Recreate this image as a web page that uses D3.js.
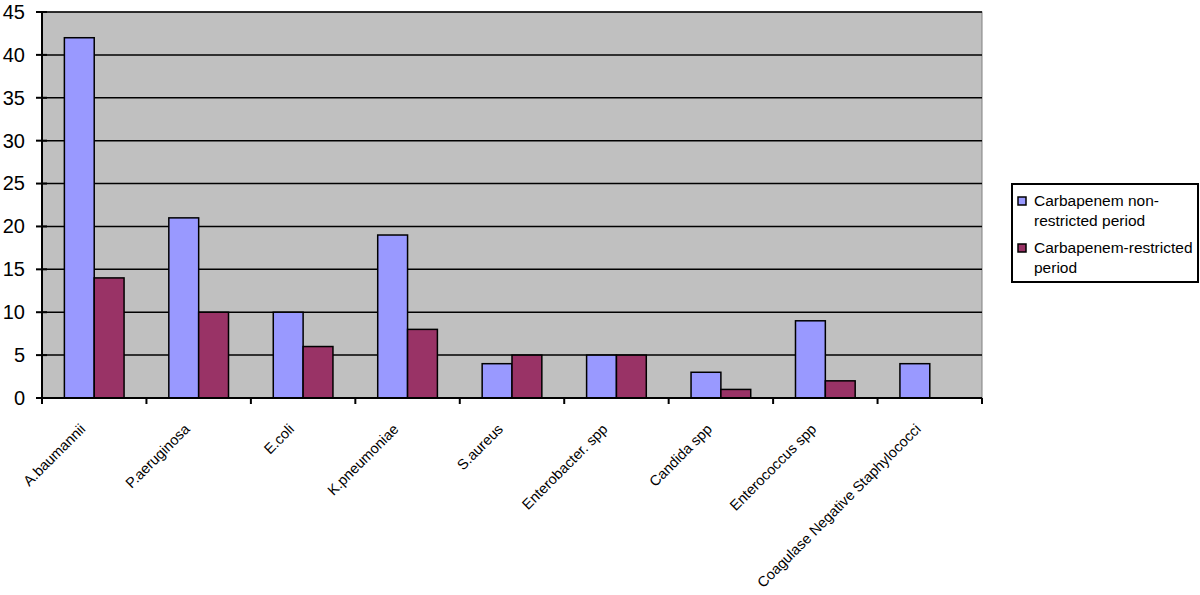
<!DOCTYPE html>
<html>
<head>
<meta charset="utf-8">
<script src="https://cdn.jsdelivr.net/npm/d3@7"></script>
<style>
  body { margin: 0; background: #fff; }
  text { font-family: "Liberation Sans", Arial, sans-serif; }
</style>
</head>
<body>
<div id="chart"></div>
<script>
// data
const categories = ["A.baumannii", "P.aeruginosa", "E.coli", "K.pneumoniae", "S.aureus",
  "Enterobacter. spp", "Candida spp", "Enterococcus spp", "Coagulase Negative Staphylococci"];
const nonRestricted = [42, 21, 10, 19, 4, 5, 3, 9, 4];
const restricted = [14, 10, 6, 8, 5, 5, 1, 2, 0];
const seriesNames = ["Carbapenem non-\nrestricted period", "Carbapenem-restricted\nperiod"];
const yTicks = [0, 5, 10, 15, 20, 25, 30, 35, 40, 45];

const width = 1200, height = 595;
const margin = { top: 12, right: 218, bottom: 197, left: 42 },
    mgw = width - margin.left - margin.right,
    mgh = height - margin.top - margin.bottom;

const colors = ["#9999FF", "#993366"];

let svg = d3.select("#chart").append("svg")
    .attr("width", width).attr("height", height);

let g = svg.append("g")
    .attr("transform", "translate(" + margin.left + "," + margin.top + ")");

let x = d3.scaleBand().domain(categories).range([0, mgw]);
let x1 = d3.scaleBand().domain([0, 1]).range([0, x.bandwidth()]).paddingOuter(0.75).paddingInner(0);
let y = d3.scaleLinear().domain([0, 45]).range([mgh, 0]);

// plot background
g.append("rect")
    .attr("width", mgw).attr("height", mgh)
    .attr("fill", "#C0C0C0").attr("stroke", "#808080").attr("stroke-width", 1);

// gridlines
g.selectAll(".grid").data(yTicks.filter(d => d > 0))
    .join("line")
    .attr("x1", 0).attr("x2", mgw)
    .attr("y1", d => y(d)).attr("y2", d => y(d))
    .attr("stroke", "#000").attr("stroke-width", 1.5);

// bars
const series = [nonRestricted, restricted];
series.forEach(function (vals, s) {
    g.selectAll(".bar" + s).data(categories.map((c, i) => ({ c: c, v: vals[i] })).filter(d => d.v > 0))
        .join("rect")
        .attr("x", d => x(d.c) + x1(s))
        .attr("y", d => y(d.v))
        .attr("width", x1.bandwidth())
        .attr("height", d => mgh - y(d.v))
        .attr("fill", colors[s])
        .attr("stroke", "#000").attr("stroke-width", 1.5);
});

// Y axis
let yAxis = g.append("g")
    .call(d3.axisLeft(y).tickValues(yTicks).tickSize(0).tickPadding(17));
yAxis.select(".domain").remove();
yAxis.selectAll("text").attr("font-size", 20).attr("fill", "#000");
g.append("line").attr("x1", 0).attr("x2", 0).attr("y1", 0).attr("y2", mgh)
    .attr("stroke", "#000").attr("stroke-width", 2);
g.selectAll(".ytick").data(yTicks).join("line")
    .attr("x1", -6).attr("x2", 5)
    .attr("y1", d => y(d)).attr("y2", d => y(d))
    .attr("stroke", "#000").attr("stroke-width", 2);

// X axis
g.append("line").attr("x1", 0).attr("x2", mgw).attr("y1", mgh).attr("y2", mgh)
    .attr("stroke", "#000").attr("stroke-width", 2);
let xEdges = categories.map(c => x(c)).concat([mgw]);
g.selectAll(".xtick").data(xEdges).join("line")
    .attr("x1", d => d).attr("x2", d => d)
    .attr("y1", mgh).attr("y2", mgh + 6)
    .attr("stroke", "#000").attr("stroke-width", 2);

g.selectAll(".xlabel").data(categories).join("text")
    .attr("transform", d => "translate(" + (x(d) + x.bandwidth() / 2 - 8) + "," + (mgh + 32) + ") rotate(-45)")
    .attr("text-anchor", "end")
    .attr("font-size", 14.5)
    .text(d => d);

// legend
let legend = svg.append("g").attr("transform", "translate(1012,184)");
legend.append("rect")
    .attr("width", 186).attr("height", 98)
    .attr("fill", "#fff").attr("stroke", "#000").attr("stroke-width", 2);
seriesNames.forEach(function (name, i) {
    let ly = 13 + i * 47;
    legend.append("rect")
        .attr("x", 6).attr("y", ly).attr("width", 8).attr("height", 8)
        .attr("fill", colors[i]).attr("stroke", "#000").attr("stroke-width", 1.5);
    name.split("\n").forEach(function (line, j) {
        legend.append("text")
            .attr("x", 22).attr("y", ly + 9 + j * 20)
            .attr("font-size", 15.5)
            .text(line);
    });
});
</script>
</body>
</html>
